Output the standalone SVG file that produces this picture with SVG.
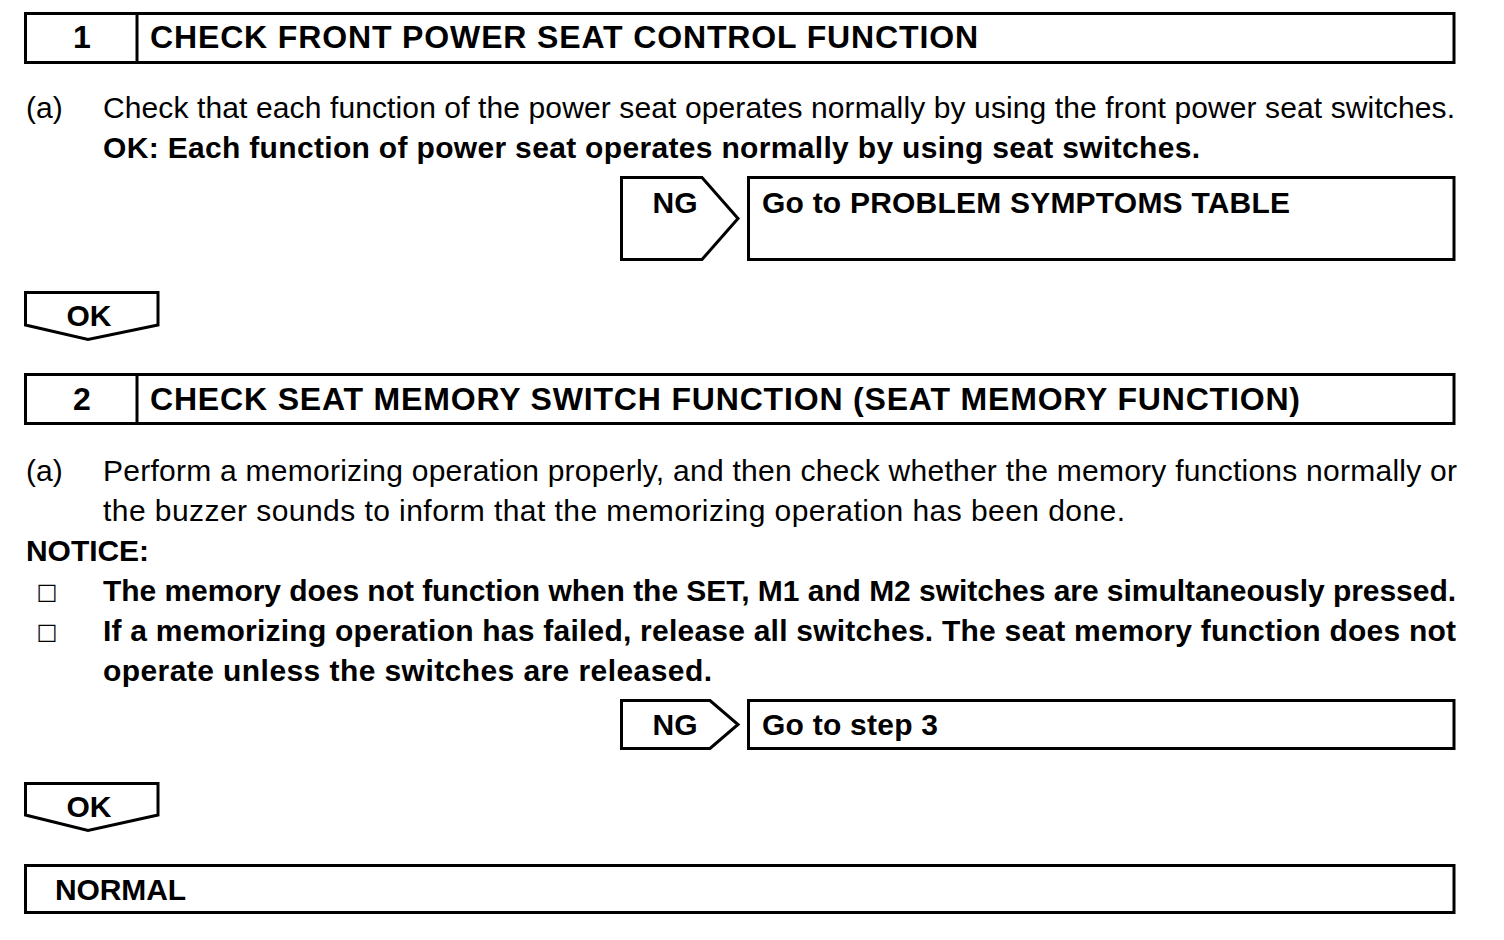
<svg xmlns="http://www.w3.org/2000/svg" width="1504" height="940" viewBox="0 0 1504 940">
<style>
.box{fill:#fff;stroke:#000;stroke-width:3}
.t{font-family:"Liberation Sans",Arial,sans-serif;font-size:30px;fill:#000}
.b{font-weight:bold}
.h{font-family:"Liberation Sans",Arial,sans-serif;font-size:32px;font-weight:bold;fill:#000}
.sq{font-family:"DejaVu Sans",sans-serif;font-size:22px;fill:#000}
</style>
<rect width="1504" height="940" fill="#fff"/>
<g id="step1">
<rect class="box" x="25.5" y="13.5" width="1428.5" height="49"/>
<line x1="137" y1="13.5" x2="137" y2="62.5" stroke="#000" stroke-width="3"/>
<text class="h" x="82" y="48" text-anchor="middle">1</text>
<text class="h" x="150" y="48" textLength="828">CHECK FRONT POWER SEAT CONTROL FUNCTION</text>
</g>
<g id="step1-text">
<text class="t" x="26" y="118">(a)</text>
<text class="t" x="103" y="118" textLength="1352">Check that each function of the power seat operates normally by using the front power seat switches.</text>
<text class="t b" x="103" y="158" textLength="1097">OK: Each function of power seat operates normally by using seat switches.</text>
</g>
<g id="ng1">
<path class="box" d="M621.5,177.5 H702 L738,218.5 L702,259.5 H621.5 Z"/>
<text class="t b" x="675" y="213" text-anchor="middle">NG</text>
</g>
<g id="result1">
<rect class="box" x="748.5" y="177.5" width="705.5" height="82"/>
<text class="t b" x="762" y="213" textLength="528">Go to PROBLEM SYMPTOMS TABLE</text>
</g>
<g id="ok1">
<path class="box" d="M25.5,325 V292.5 H158 V325 L88,339.5 Z"/>
<text class="t b" x="89" y="326" text-anchor="middle">OK</text>
</g>
<g id="step2">
<rect class="box" x="25.5" y="374.5" width="1428.5" height="49"/>
<line x1="137" y1="374.5" x2="137" y2="423.5" stroke="#000" stroke-width="3"/>
<text class="h" x="82" y="410" text-anchor="middle">2</text>
<text class="h" x="150" y="410" textLength="1150">CHECK SEAT MEMORY SWITCH FUNCTION (SEAT MEMORY FUNCTION)</text>
</g>
<g id="step2-text">
<text class="t" x="26" y="481">(a)</text>
<text class="t" x="103" y="481" textLength="1354">Perform a memorizing operation properly, and then check whether the memory functions normally or</text>
<text class="t" x="103" y="521" textLength="1022">the buzzer sounds to inform that the memorizing operation has been done.</text>
<text class="t b" x="26" y="561" textLength="123">NOTICE:</text>
<text class="sq" x="47" y="599" text-anchor="middle">□</text>
<text class="t b" x="103" y="601" textLength="1353">The memory does not function when the SET, M1 and M2 switches are simultaneously pressed.</text>
<text class="sq" x="47" y="639" text-anchor="middle">□</text>
<text class="t b" x="103" y="641" textLength="1353">If a memorizing operation has failed, release all switches. The seat memory function does not</text>
<text class="t b" x="103" y="681" textLength="609">operate unless the switches are released.</text>
</g>
<g id="ng2">
<path class="box" d="M621.5,700.5 H710 L738,724.5 L710,748.5 H621.5 Z"/>
<text class="t b" x="675" y="735" text-anchor="middle">NG</text>
</g>
<g id="result2">
<rect class="box" x="748.5" y="700.5" width="705.5" height="48"/>
<text class="t b" x="762" y="735" textLength="176">Go to step 3</text>
</g>
<g id="ok2">
<path class="box" d="M25.5,815 V783.5 H158 V815 L88,830.5 Z"/>
<text class="t b" x="89" y="817" text-anchor="middle">OK</text>
</g>
<g id="normal">
<rect class="box" x="25.5" y="865.5" width="1428.5" height="47"/>
<text class="t b" x="55" y="900" textLength="131">NORMAL</text>
</g>
<g id="connectors"></g>
</svg>
